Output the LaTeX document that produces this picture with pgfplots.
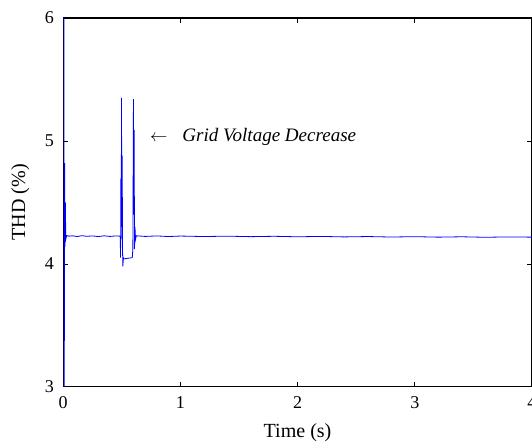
\documentclass[border=0pt]{standalone}
\usepackage{fontspec}
\setmainfont{Liberation Serif}
\usepackage{pgfplots}
\pgfplotsset{compat=1.18}
\begin{document}
\fontsize{18}{21}\selectfont
\begin{tikzpicture}[trim axis right]
\begin{axis}[
  scale only axis, width=468pt, height=368pt,
  xmin=0, xmax=4, ymin=3, ymax=6,
  xtick={0,1,2,3,4}, ytick={3,4,5,6},
  tick align=inside, major tick length=5pt,
  axis line style={line width=1.1pt},
  tick style={black, line width=0.6pt},
  /pgf/number format/assume math mode=true,
  tick label style={font=\fontsize{18}{21}\selectfont},
  xticklabel style={anchor=base, yshift=-22pt},
  yticklabel style={anchor=east, inner sep=0pt, xshift=-9pt},
  label style={font=\fontsize{20}{24}\selectfont, inner sep=0pt},
  xlabel={Time (s)}, ylabel={THD (\%)},
  xlabel style={at={(axis description cs:0.5,0)}, anchor=base, yshift=-51pt},
  ylabel style={at={(axis description cs:-0.0812,0.5)}, anchor=base},
]
\addplot[blue, line width=0.8pt] coordinates {
(0.006,7.0) (0.009,2.5) (0.013,4.82) (0.016,4.14) (0.019,4.50) (0.023,4.20)
(0.030,4.23) (0.05,4.225) (0.08,4.228) (0.12,4.222) (0.16,4.229) (0.20,4.224)
(0.25,4.227) (0.30,4.222) (0.35,4.228) (0.40,4.223) (0.45,4.227) (0.487,4.225)
(0.490,4.05) (0.493,4.70) (0.496,4.20) (0.498,5.35) (0.501,4.30) (0.504,4.88)
(0.507,4.10) (0.510,3.98) (0.514,4.05) (0.52,4.04) (0.55,4.045) (0.59,4.05)
(0.595,4.12) (0.600,5.34) (0.603,4.40) (0.606,5.09) (0.609,4.12) (0.613,4.30)
(0.618,4.20) (0.624,4.228) (0.70,4.223) (0.80,4.227) (0.90,4.222) (1.00,4.226)
(1.20,4.222) (1.40,4.225) (1.60,4.221) (1.80,4.224) (2.00,4.220) (2.20,4.223)
(2.40,4.219) (2.60,4.222) (2.80,4.218) (3.00,4.221) (3.20,4.217) (3.40,4.220)
(3.60,4.216) (3.80,4.219) (4.00,4.217)
};
\node[anchor=west, inner sep=0pt, font=\fontsize{19}{22}\selectfont] at (axis cs:0.74,5.03)
  {$\leftarrow$\hspace{15pt}\textit{Grid Voltage Decrease}};
\end{axis}
\path ([yshift=18pt,xshift=-63pt]current axis.north west);
\path ([yshift=-57pt,xshift=-63pt]current axis.south west);
\end{tikzpicture}
\end{document}
